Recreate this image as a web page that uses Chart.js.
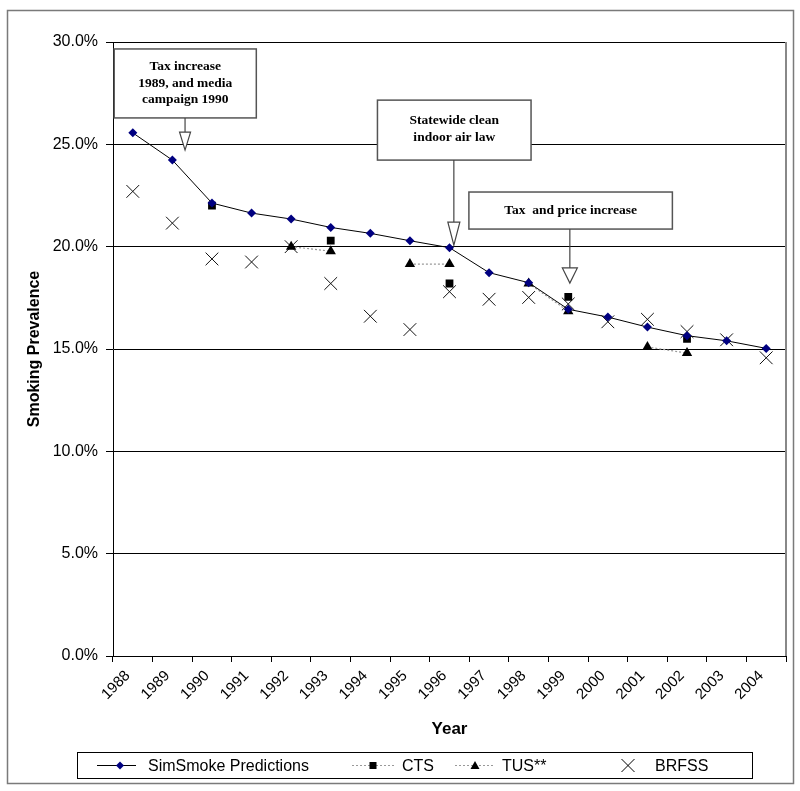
<!DOCTYPE html>
<html>
<head>
<meta charset="utf-8">
<script src="https://cdn.jsdelivr.net/npm/chart.js@4.4.1/dist/chart.umd.min.js"></script>
<style>
  html, body { margin: 0; padding: 0; background: #fff; }
  #wrap { width: 800px; height: 791px; position: relative; }
</style>
</head>
<body>
<div id="wrap"><canvas id="c" width="800" height="791"></canvas></div>
<script>
const years = ['1988','1989','1990','1991','1992','1993','1994','1995','1996','1997','1998','1999','2000','2001','2002','2003','2004'];
const simSmoke = [25.56, 24.23, 22.13, 21.64, 21.35, 20.94, 20.65, 20.29, 19.95, 18.73, 18.24, 16.94, 16.56, 16.07, 15.65, 15.40, 15.03];
const cts      = [null, null, 22.0, null, null, 20.3, null, null, 18.2, null, null, 17.55, null, null, 15.5, null, null];
const tus      = [null, null, null, null, 20.0, 19.78, null, 19.15, 19.15, null, 18.2, 16.85, null, 15.1, 14.8, null, null];
const brfss    = [22.7, 21.15, 19.4, 19.25, 20.0, 18.2, 16.6, 15.95, 17.8, 17.43, 17.52, 17.2, 16.33, 16.45, 15.85, 15.45, 14.57];
const yTicks   = [0, 5, 10, 15, 20, 25, 30];

const legendLabels = ['SimSmoke Predictions', 'CTS', 'TUS**', 'BRFSS'];
const annotations = [
  { lines: ['Tax increase', '1989, and media', 'campaign 1990'], x0: -0.47, x1: 3.12, yTop: 29.66, yBot: 26.29, arrowX: 1.32, lineEnd: 25.6, tip: 24.72, half: 5.5 },
  { lines: ['Statewide clean', 'indoor air law'], x0: 6.18, x1: 10.06, yTop: 27.16, yBot: 24.23, arrowX: 8.11, lineEnd: 21.2, tip: 20.08, half: 6 },
  { lines: ['Tax  and price increase'], x0: 8.49, x1: 13.63, yTop: 22.67, yBot: 20.86, arrowX: 11.04, lineEnd: 18.96, tip: 18.22, half: 7.5 }
];

const SANS = "'Liberation Sans', Arial, sans-serif";
const SERIF = "'Liberation Serif', 'Times New Roman', serif";

function catPx(xs, u) {
  const p0 = xs.getPixelForValue(0), p1 = xs.getPixelForValue(1);
  return p0 + u * (p1 - p0);
}

const framePlugin = {
  id: 'frame',
  beforeDraw(chart) {
    const ctx = chart.ctx;
    ctx.save();
    ctx.fillStyle = '#fff';
    ctx.fillRect(0, 0, chart.width, chart.height);
    ctx.strokeStyle = '#7a7a7a';
    ctx.lineWidth = 1.5;
    ctx.strokeRect(7.5, 10.5, 786, 773);
    ctx.restore();
  },
  afterDraw(chart) {
    const ctx = chart.ctx;
    const a = chart.chartArea;
    ctx.save();
    ctx.strokeStyle = '#888';
    ctx.lineWidth = 2;
    ctx.beginPath();
    ctx.moveTo(a.right, a.top);
    ctx.lineTo(a.right, a.bottom);
    ctx.stroke();
    ctx.restore();
  }
};

const annotPlugin = {
  id: 'annot',
  afterDatasetsDraw(chart) {
    const ctx = chart.ctx;
    const xs = chart.scales.x, ys = chart.scales.y;
    ctx.save();
    annotations.forEach(an => {
      const l = catPx(xs, an.x0), r = catPx(xs, an.x1);
      const t = ys.getPixelForValue(an.yTop), b = ys.getPixelForValue(an.yBot);
      ctx.fillStyle = '#fff';
      ctx.fillRect(l, t, r - l, b - t);
      ctx.strokeStyle = '#555';
      ctx.lineWidth = 1.5;
      ctx.strokeRect(l, t, r - l, b - t);
      ctx.fillStyle = '#000';
      ctx.font = "bold 13.5px " + SERIF;
      ctx.textAlign = 'center';
      ctx.textBaseline = 'middle';
      const cx = (l + r) / 2;
      const n = an.lines.length;
      const lh = 16.5;
      const midY = (t + b) / 2 - (n === 2 ? 1 : 0);
      an.lines.forEach((s, i) => {
        ctx.fillText(s, cx, midY + (i - (n - 1) / 2) * lh);
      });
      const ax = catPx(xs, an.arrowX);
      const le = ys.getPixelForValue(an.lineEnd);
      const tp = ys.getPixelForValue(an.tip);
      ctx.strokeStyle = '#444';
      ctx.lineWidth = 1.2;
      ctx.beginPath();
      ctx.moveTo(ax, b);
      ctx.lineTo(ax, le);
      ctx.stroke();
      ctx.beginPath();
      ctx.moveTo(ax - an.half, le);
      ctx.lineTo(ax + an.half, le);
      ctx.lineTo(ax, tp);
      ctx.closePath();
      ctx.fillStyle = '#fff';
      ctx.fill();
      ctx.stroke();
    });
    ctx.restore();
  }
};

function drawMarker(ctx, style, x, y) {
  ctx.save();
  ctx.fillStyle = '#000';
  ctx.strokeStyle = '#000';
  if (style === 'diamond') {
    ctx.fillStyle = '#000080';
    ctx.beginPath();
    ctx.moveTo(x, y - 4); ctx.lineTo(x + 4, y); ctx.lineTo(x, y + 4); ctx.lineTo(x - 4, y); ctx.closePath();
    ctx.fill();
  } else if (style === 'square') {
    ctx.fillRect(x - 3.5, y - 3.5, 7, 7);
  } else if (style === 'triangle') {
    ctx.beginPath();
    ctx.moveTo(x, y - 4.5); ctx.lineTo(x + 4.5, y + 3.5); ctx.lineTo(x - 4.5, y + 3.5); ctx.closePath();
    ctx.fill();
  } else if (style === 'x') {
    ctx.lineWidth = 1;
    ctx.beginPath();
    ctx.moveTo(x - 6.5, y - 6.5); ctx.lineTo(x + 6.5, y + 6.5);
    ctx.moveTo(x + 6.5, y - 6.5); ctx.lineTo(x - 6.5, y + 6.5);
    ctx.stroke();
  }
  ctx.restore();
}

const legendPlugin = {
  id: 'customLegend',
  afterDraw(chart) {
    const ctx = chart.ctx;
    ctx.save();
    const L = 77, T = 752, R = 752, B = 778;
    ctx.strokeStyle = '#000';
    ctx.lineWidth = 1;
    ctx.strokeRect(L + 0.5, T + 0.5, R - L, B - T);
    const cy = 765.5;
    const items = [
      { l0: 97, l1: 136, mx: 120, style: 'diamond', line: 'solid', tx: 148, text: legendLabels[0] },
      { l0: 352, l1: 395, mx: 373, style: 'square', line: 'dot', tx: 402, text: legendLabels[1] },
      { l0: 455, l1: 494, mx: 475, style: 'triangle', line: 'dot', tx: 502, text: legendLabels[2] },
      { l0: null, l1: null, mx: 628, style: 'x', line: null, tx: 655, text: legendLabels[3] }
    ];
    items.forEach(it => {
      if (it.line) {
        ctx.beginPath();
        if (it.line === 'solid') { ctx.strokeStyle = '#000'; ctx.setLineDash([]); ctx.lineWidth = 1; }
        else { ctx.strokeStyle = '#999'; ctx.setLineDash([2, 2]); ctx.lineWidth = 1; }
        ctx.moveTo(it.l0, cy); ctx.lineTo(it.l1, cy);
        ctx.stroke();
        ctx.setLineDash([]);
      }
      drawMarker(ctx, it.style, it.mx, cy);
      ctx.fillStyle = '#000';
      ctx.font = "16px " + SANS;
      ctx.textAlign = 'left';
      ctx.textBaseline = 'middle';
      ctx.fillText(it.text, it.tx, cy + 1);
    });
    ctx.restore();
  }
};

new Chart(document.getElementById('c'), {
  type: 'line',
  data: {
    labels: years,
    datasets: [
      {
        label: legendLabels[0], data: simSmoke,
        borderColor: '#000', borderWidth: 1, tension: 0,
        pointStyle: 'rectRot', pointRadius: 4.5, pointBackgroundColor: '#000080', pointBorderColor: '#000080', pointBorderWidth: 0
      },
      {
        label: legendLabels[1], data: cts,
        borderColor: '#999', borderWidth: 1, borderDash: [2, 2], spanGaps: false,
        pointStyle: 'rect', pointRadius: 5.5, pointBackgroundColor: '#000', pointBorderColor: '#000', pointBorderWidth: 0
      },
      {
        label: legendLabels[2], data: tus,
        borderColor: '#999', borderWidth: 1.2, borderDash: [2, 2], spanGaps: false,
        pointStyle: 'triangle', pointRadius: 6, pointBackgroundColor: '#000', pointBorderColor: '#000', pointBorderWidth: 0
      },
      {
        label: legendLabels[3], data: brfss, showLine: false,
        pointStyle: 'crossRot', pointRadius: 9, pointBorderColor: '#111', pointBackgroundColor: '#111', pointBorderWidth: 1
      }
    ]
  },
  options: {
    responsive: false,
    animation: false,
    devicePixelRatio: 1,
    layout: { padding: { left: 0, top: 42, right: 14, bottom: 0 } },
    plugins: { legend: { display: false }, tooltip: { enabled: false } },
    scales: {
      x: {
        type: 'category',
        offset: true,
        grid: { display: true, offset: true, drawOnChartArea: false, drawTicks: true, tickLength: 6, color: '#000', tickColor: '#000' },
        border: { display: true, color: '#000', width: 1 },
        ticks: { autoSkip: false, minRotation: 45, maxRotation: 45, padding: 5, labelOffset: -5, color: '#000', font: { family: SANS, size: 15 } },
        title: { display: true, text: 'Year', color: '#000', font: { family: SANS, size: 17, weight: 'bold' }, padding: { top: 0, bottom: 51 } },
        afterFit(scale) { scale.height = 135; }
      },
      y: {
        min: 0, max: 30,
        afterBuildTicks(scale) { scale.ticks = yTicks.map(v => ({ value: v })); },
        grid: { color: '#000', lineWidth: 1, drawTicks: true, tickLength: 7, tickColor: '#000' },
        border: { display: true, color: '#000', width: 1 },
        ticks: { padding: 8, color: '#000', font: { family: SANS, size: 16 }, callback: v => v.toFixed(1) + '%' },
        title: { display: true, text: 'Smoking Prevalence', color: '#000', font: { family: SANS, size: 16, weight: 'bold' }, padding: { top: 25, bottom: 0 } },
        afterFit(scale) { scale.width = 113; }
      }
    }
  },
  plugins: [framePlugin, annotPlugin, legendPlugin]
});
</script>
</body>
</html>
